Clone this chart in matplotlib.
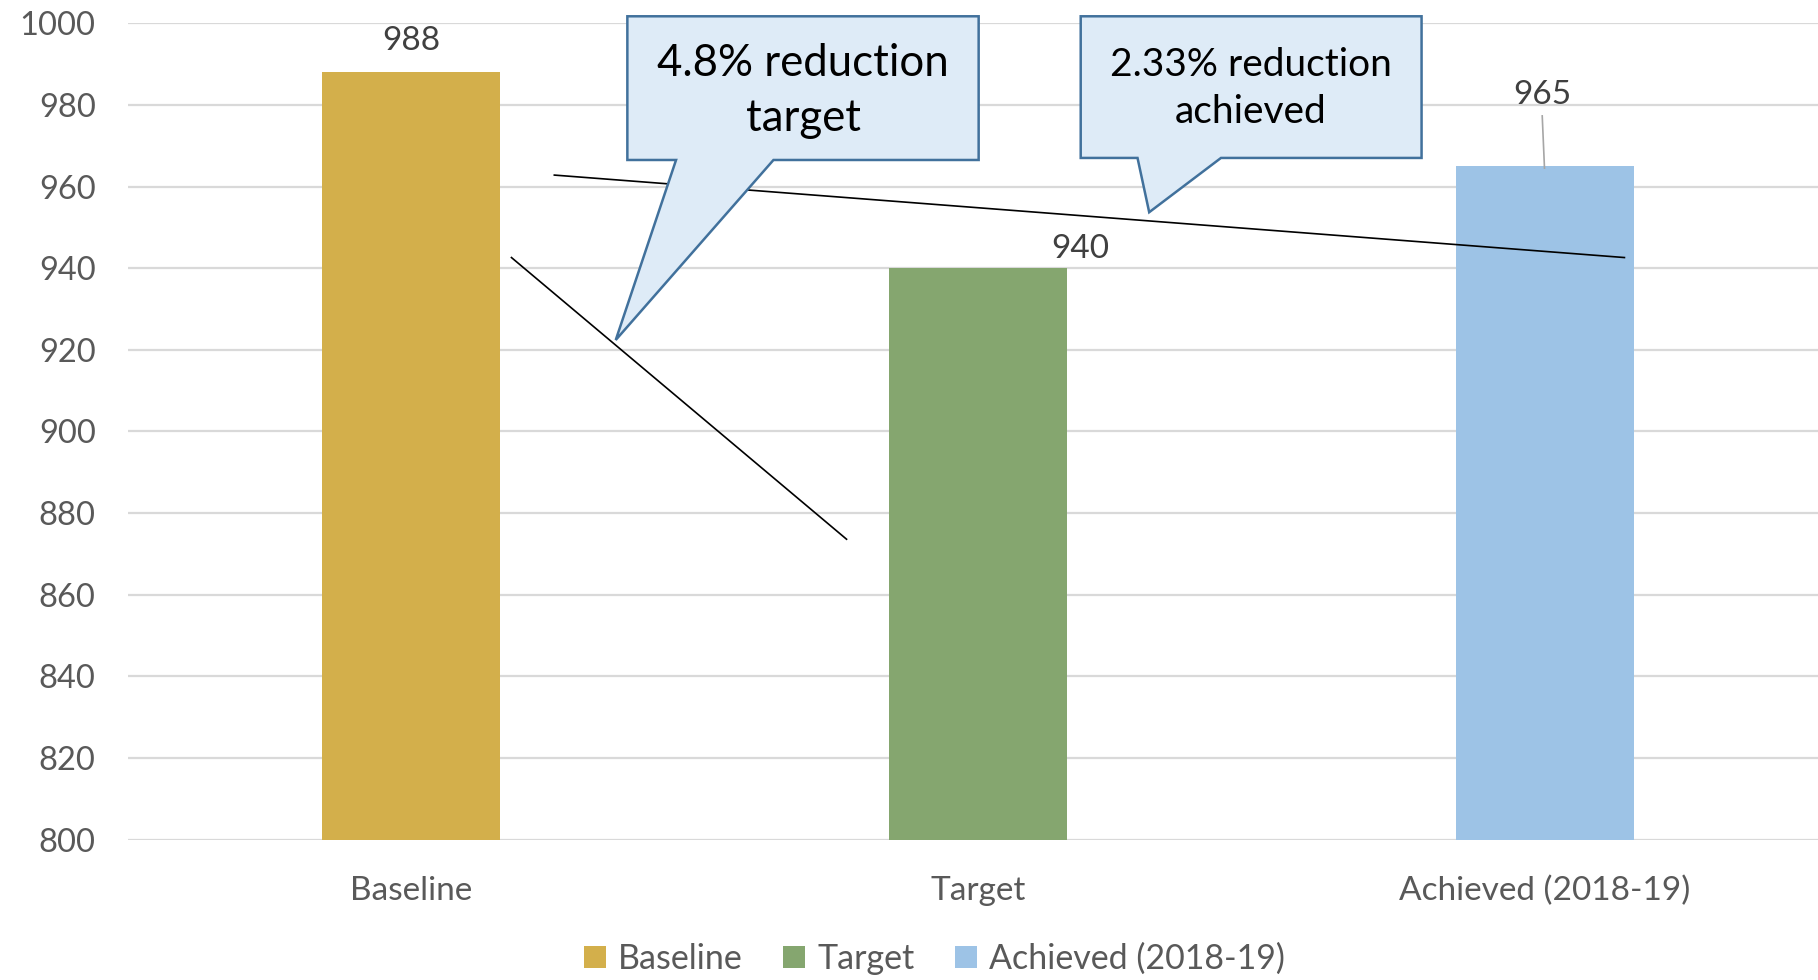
import matplotlib
matplotlib.use("Agg")
import matplotlib.pyplot as plt
from matplotlib.patches import Polygon, Patch

categories = ["Baseline", "Target", "Achieved (2018-19)"]
values = [988, 940, 965]
colors = ["#D3AF4B", "#85A66F", "#9DC3E6"]
y_ticks = [800, 820, 840, 860, 880, 900, 920, 940, 960, 980, 1000]

plt.rcParams['font.family'] = ['Lato', 'DejaVu Sans']
grey = "#595959"

fig = plt.figure(figsize=(18.18, 9.8), dpi=100)
ax = fig.add_axes([0.0702, 0.1432, 0.9356, 0.8331])

x = list(range(len(categories)))
ax.bar(x, values, width=0.313, color=colors, zorder=2)

ax.set_ylim(800, 1000)
ax.set_xlim(-0.5, 2.5)
ax.set_yticks(y_ticks)
ax.set_xticks(x)
ax.set_xticklabels(categories)
ax.tick_params(axis='both', length=0, labelsize=24, labelcolor=grey)
ax.tick_params(axis='y', labelsize=23.5, pad=23)
ax.tick_params(axis='x', pad=26)
for lbl in ax.get_yticklabels():
    lbl.set_horizontalalignment('right')
ax.grid(axis='y', color="#D9D9D9", linewidth=1.6, zorder=0)
for s in ax.spines.values():
    s.set_visible(False)

# data labels (Excel positions, the 940 one was dragged aside)
label_pos = [(0.0, 995.7), (1.181, 944.6), (1.995, 982.4)]
for v, (lx, ly) in zip(values, label_pos):
    ax.text(lx, ly, str(v), ha='center', va='center', fontsize=24, color="#404040", zorder=5)
ax.plot([1.995, 1.999], [977.3, 964.5], color="#A6A6A6", linewidth=1.2, zorder=3)

# black trend lines drawn on top
ax.plot([0.2526, 2.140], [962.8, 942.6], color="black", linewidth=1.2, zorder=4, clip_on=False)
ax.plot([0.177, 0.768], [942.6, 873.6], color="black", linewidth=1.2, zorder=4, clip_on=False)

# callout shapes
fill = "#DEEBF7"
edge = "#41719C"
call1 = [(0.3814, 1001.7), (1.0010, 1001.7), (1.0010, 966.5), (0.6391, 966.5),
         (0.3609, 922.4), (0.4673, 966.5), (0.3814, 966.5)]
call2 = [(1.1810, 1001.7), (1.7822, 1001.7), (1.7822, 967.0), (1.4284, 967.0),
         (1.3018, 953.7), (1.2812, 967.0), (1.1810, 967.0)]
for pts in (call1, call2):
    ax.add_patch(Polygon(pts, closed=True, facecolor=fill, edgecolor=edge,
                         linewidth=1.8, zorder=6, clip_on=False))
ax.text(0.6912, 983.4, "4.8% reduction\ntarget", ha='center', va='center',
        fontsize=31.5, color="black", linespacing=1.4, zorder=7)
ax.text(1.4806, 984.0, "2.33% reduction\nachieved", ha='center', va='center',
        fontsize=28, color="black", linespacing=1.38, zorder=7)

handles = [Patch(facecolor=c, label=n) for c, n in zip(colors, categories)]
fig.legend(handles=handles, loc='center', bbox_to_anchor=(0.514, 0.0215), ncol=3,
           frameon=False, fontsize=24.5, labelcolor=grey, handlelength=0.65,
           handleheight=0.65, handletextpad=0.35, columnspacing=1.2)

fig.savefig("out.png", dpi=100)
